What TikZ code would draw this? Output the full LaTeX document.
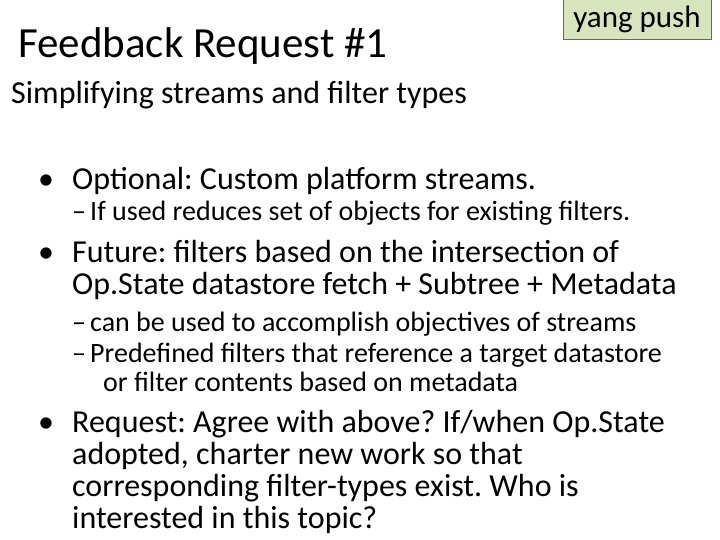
\documentclass[tikz,border=0pt]{standalone}
\usepackage{fontspec}
\setmainfont{Carlito}
\definecolor{tagfill}{HTML}{D7E4BD}
\begin{document}
\frenchspacing
\begin{tikzpicture}[x=1pt,y=-1pt,
  txt/.style={anchor=base west,inner sep=0pt},
  t1/.style={txt,font=\fontsize{43}{48}\selectfont},
  t2/.style={txt,font=\fontsize{32}{36}\selectfont},
  b1/.style={txt,font=\fontsize{32}{36}\selectfont},
  b2/.style={txt,font=\fontsize{28}{32}\selectfont}]
\useasboundingbox (0,0) rectangle (720,540);
\node[draw=black!60,fill=tagfill,minimum width=148,minimum height=40,inner sep=0pt,font=\fontsize{31}{34}\selectfont] (tag) at (637,19) {yang push};
\node[t1] (title) at (18,58) {Feedback Request \#1};
\node[t2] (sub) at (11,104) {Simplifying streams and filter types};
\node[b1] (d1) at (38,190) {•};
\node[b1] (l1) at (72,190) {Optional: Custom platform streams.};
\node[b2] (e1) at (72,221) {–};
\node[b2] (s1) at (90,221) {If used reduces set of objects for existing filters.};
\node[b1] (d2) at (38,262) {•};
\node[b1] (l2) at (72,262) {Future: filters based on the intersection of};
\node[b1] (l2b) at (72,294) {Op.State datastore fetch + Subtree + Metadata};
\node[b2] (e2) at (72,331) {–};
\node[b2] (s2) at (90,331) {can be used to accomplish objectives of streams};
\node[b2] (e3) at (72,362) {–};
\node[b2] (s3) at (90,362) {Predefined filters that reference a target datastore};
\node[b2] (s3b) at (103,391) {or filter contents based on metadata};
\node[b1] (d3) at (38,432) {•};
\node[b1] (l3) at (72,432) {Request: Agree with above? If/when Op.State};
\node[b1] (l3b) at (72,464) {adopted, charter new work so that};
\node[b1] (l3c) at (72,496) {corresponding filter-types exist. Who is};
\node[b1] (l3d) at (72,528) {interested in this topic?};
\end{tikzpicture}
\end{document}
